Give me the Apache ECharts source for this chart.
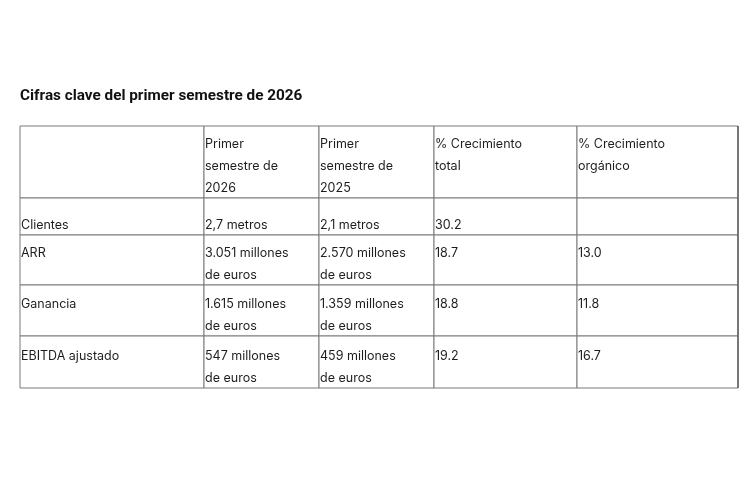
<!DOCTYPE html>
<html>
<head>
<meta charset="utf-8">
<script src="https://cdn.jsdelivr.net/npm/echarts@6/dist/echarts.min.js"></script>
<style>
  html, body { margin: 0; padding: 0; background: #fff; }
  #main { width: 750px; height: 480px; }
</style>
</head>
<body>
<div id="main"></div>
<script>
// datos de la tabla
var titleText = "Cifras clave del primer semestre de 2026";
var headers = ["", "Primer\nsemestre de\n2026", "Primer\nsemestre de\n2025", "% Crecimiento\ntotal", "% Crecimiento\norgánico"];
var metrics = ["Clientes", "ARR", "Ganancia", "EBITDA ajustado"];
var h1_2026 = ["2,7 metros", "3.051 millones\nde euros", "1.615 millones\nde euros", "547 millones\nde euros"];
var h1_2025 = ["2,1 metros", "2.570 millones\nde euros", "1.359 millones\nde euros", "459 millones\nde euros"];
var totalGrowth = ["30.2", "18.7", "18.8", "19.2"];
var organicGrowth = ["", "13.0", "11.8", "16.7"];

// bordes de columnas / filas (px dentro del grid)
var colEdges = [0, 184, 299, 414, 557, 718];
var rowEdges = [0, 72, 109, 159, 210, 262];
var lineH = 22;

var columns = [metrics, h1_2026, h1_2025, totalGrowth, organicGrowth];

// celdas: [col, fila, texto]
var cells = [];
headers.forEach(function (h, c) {
  cells.push([c, 0, h]);
});
metrics.forEach(function (m, r) {
  columns.forEach(function (col, c) {
    cells.push([c, r + 1, col[r]]);
  });
});

// nº máximo de líneas por fila (el texto queda pegado abajo)
var rowLines = [];
cells.forEach(function (d) {
  var n = d[2].split("\n").length;
  rowLines[d[1]] = Math.max(rowLines[d[1]] || 1, n);
});

var myChart = echarts.init(document.getElementById("main"));

var option = {
  animation: false,
  title: {
    text: titleText,
    left: 20,
    top: 89,
    padding: 0,
    textStyle: {
      fontFamily: "Roboto",
      fontSize: 15.3,
      fontWeight: 700,
      color: "#111"
    }
  },
  grid: {
    left: 20,
    top: 126,
    width: 718,
    height: 262
  },
  xAxis: {
    type: "value",
    min: 0,
    max: 718,
    show: false
  },
  yAxis: {
    type: "value",
    min: 0,
    max: 262,
    inverse: true,
    show: false
  },
  series: [
    {
      type: "custom",
      data: cells,
      renderItem: function (params, api) {
        var c = api.value(0);
        var r = api.value(1);
        var text = cells[params.dataIndex][2];
        var p0 = api.coord([colEdges[c], rowEdges[r]]);
        var p1 = api.coord([colEdges[c + 1], rowEdges[r + 1]]);
        var children = [
          {
            type: "rect",
            shape: { x: p0[0], y: p0[1], width: p1[0] - p0[0], height: p1[1] - p0[1] },
            style: { fill: "#fff", stroke: "#7a7a7a", lineWidth: 1 }
          },
          {
            type: "text",
            style: {
              text: text,
              x: p0[0] + 1,
              y: p1[1] - rowLines[r] * lineH + 1.5,
              verticalAlign: "top",
              align: "left",
              fontFamily: "Inter",
              fontSize: 12.5,
              lineHeight: lineH,
              fill: "#1e1e1e"
            }
          }
        ];
        if (c === colEdges.length - 2) {
          // borde derecho algo más oscuro
          children.push({
            type: "line",
            shape: { x1: p1[0], y1: p0[1], x2: p1[0], y2: p1[1] },
            style: { stroke: "#333", lineWidth: 1 }
          });
        }
        return { type: "group", children: children };
      }
    }
  ]
};

myChart.setOption(option);
</script>
</body>
</html>
